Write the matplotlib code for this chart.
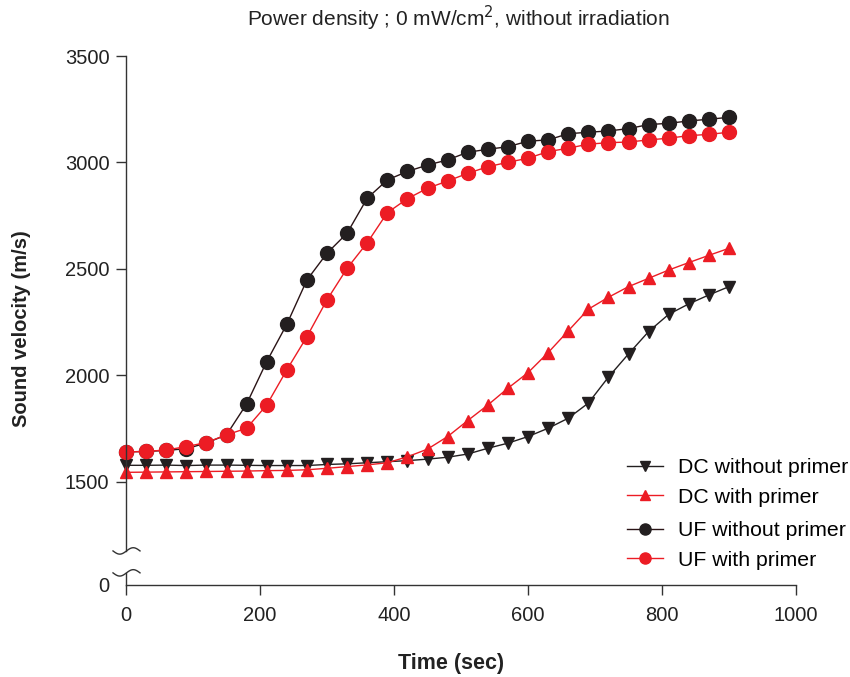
#!/usr/bin/env python3
"""Sound velocity vs time, DC/UF with and without primer (0 mW/cm2)."""

import numpy as np
import matplotlib
matplotlib.use('Agg')
import matplotlib.pyplot as plt

plt.rcParams['font.family'] = ['Liberation Sans', 'DejaVu Sans']

time_sec = [0, 30, 60, 90, 120, 150, 180, 210, 240, 270, 300, 330, 360, 390, 420,
            450, 480, 510, 540, 570, 600, 630, 660, 690, 720, 750, 780, 810, 840, 870, 900]

dc_without = [1578, 1578, 1579, 1577, 1579, 1579, 1578, 1577, 1577, 1577, 1582, 1585,
              1590, 1595, 1600, 1607, 1616, 1631, 1658, 1682, 1713, 1752, 1799, 1870,
              1992, 2101, 2206, 2287, 2336, 2378, 2417]
dc_with = [1545, 1546, 1547, 1548, 1549, 1550, 1551, 1553, 1554, 1557, 1564, 1572,
           1580, 1590, 1618, 1654, 1713, 1788, 1861, 1940, 2013, 2107, 2209, 2311,
           2367, 2417, 2456, 2495, 2530, 2564, 2597]
uf_without = [1641, 1643, 1648, 1656, 1683, 1721, 1866, 2065, 2240, 2448, 2574, 2668,
              2832, 2918, 2958, 2988, 3012, 3048, 3062, 3074, 3100, 3106, 3135, 3142,
              3148, 3159, 3178, 3184, 3195, 3203, 3212]
uf_with = [1641, 1643, 1650, 1666, 1685, 1721, 1752, 1861, 2026, 2182, 2355, 2503,
           2623, 2764, 2830, 2879, 2913, 2949, 2980, 3001, 3020, 3051, 3067, 3086,
           3093, 3096, 3106, 3114, 3126, 3132, 3142]

y_ticks = [1500, 2000, 2500, 3000, 3500]
x_ticks = [0, 200, 400, 600, 800, 1000]

BLACK = '#231f20'
RED = '#ec1c24'
AXC = '#333333'
TXT = '#222222'
Y_BOTTOM = 1016   # where the "0" of the broken axis sits

fig = plt.figure(figsize=(8.5, 6.77), dpi=100)
ax = fig.add_axes([126 / 850, 1 - 585 / 677, 670 / 850, 529 / 677])

series = [
    ('DC without primer', dc_without, BLACK, BLACK, 'v', 9),
    ('DC with primer', dc_with, RED, RED, '^', 9),
    ('UF without primer', uf_without, '#2a1416', BLACK, 'o', 10),
    ('UF with primer', uf_with, RED, RED, 'o', 10),
]
for label, vals, lc, mc, mk, ms in series:
    ax.plot(time_sec, vals, color=lc, lw=1.0, marker=mk, ms=ms,
            mfc=mc, mec=mc, clip_on=False, label=label)

ax.set_xlim(0, 1000)
ax.set_ylim(Y_BOTTOM, 3500)
ax.set_xticks(x_ticks)
ax.set_yticks([Y_BOTTOM] + y_ticks)
ax.set_yticklabels(['0'] + [str(v) for v in y_ticks])
ax.yaxis.get_major_ticks()[0].tick1line.set_visible(False)
ax.tick_params(direction='out', length=7, width=1, labelsize=14.5, color=AXC,
               labelcolor=TXT)
ax.tick_params(axis='x', pad=8)
ax.tick_params(axis='y', pad=5)

for s in ['top', 'right']:
    ax.spines[s].set_visible(False)
for s in ['left', 'bottom']:
    ax.spines[s].set_color(AXC)
    ax.spines[s].set_linewidth(1.0)

# broken y axis: spine stops at upper squiggle, short stub near zero
y_brk_hi = 1176
y_brk_lo = 1073
ax.spines['left'].set_bounds(y_brk_hi, 3500)
ax.plot([0, 0], [Y_BOTTOM, y_brk_lo], color=AXC, lw=1.0, clip_on=False)
tt = np.linspace(0, 2 * np.pi, 60)
xs = np.linspace(-13, 14, 60) * 1000 / 670
for yb in [y_brk_hi, y_brk_lo]:
    ys = yb - 3.2 * 4.695 * np.sin(tt)
    ax.plot(xs, ys, color=AXC, lw=1.0, clip_on=False)

fig.text(451 / 850, 1 - 663 / 677, 'Time (sec)', ha='center', va='center',
         fontsize=15.5, fontweight='bold', color=TXT)
fig.text(22 / 850, 1 - 329 / 677, 'Sound velocity (m/s)', ha='center', va='center',
         rotation=90, fontsize=14.5, fontweight='bold', color=TXT)
fig.text(458 / 850, 1 - 18 / 677, 'Power density ; 0 mW/cm$^2$, without irradiation',
         ha='center', va='center', fontsize=15, color=TXT)

handles, labels = ax.get_legend_handles_labels()
leg_kw = dict(frameon=False, fontsize=15.3, handlelength=1.7, handletextpad=0.7,
              labelspacing=0.5, markerscale=0.8, borderaxespad=0, borderpad=0)
leg1 = ax.legend(handles[:2], labels[:2], loc='upper left',
                 bbox_to_anchor=(627 / 850, 1 - 458 / 677), bbox_transform=fig.transFigure,
                 **leg_kw)
ax.add_artist(leg1)
ax.legend(handles[2:], labels[2:], loc='upper left',
          bbox_to_anchor=(627 / 850, 1 - 521 / 677), bbox_transform=fig.transFigure,
          **leg_kw)

fig.savefig('out.png', dpi=100)
